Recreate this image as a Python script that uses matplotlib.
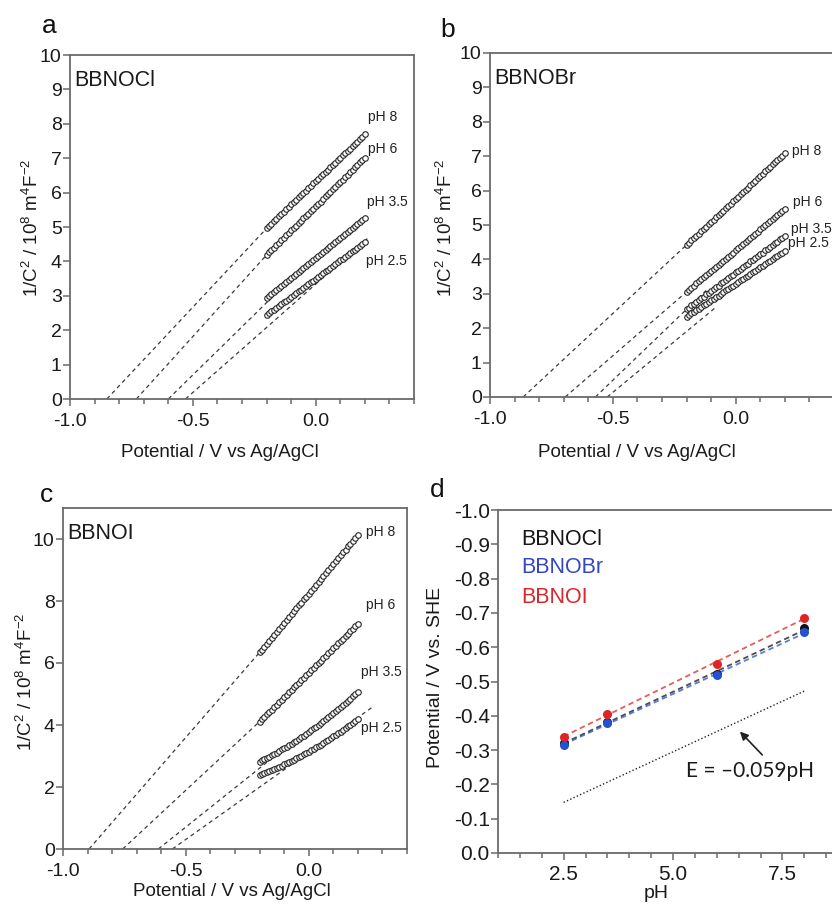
import numpy as np
import matplotlib
matplotlib.use('Agg')
import matplotlib.pyplot as plt
from matplotlib.ticker import MultipleLocator

plt.rcParams['font.family'] = ['Liberation Sans', 'DejaVu Sans']
plt.rcParams['mathtext.fontset'] = 'custom'
plt.rcParams['mathtext.rm'] = 'Liberation Sans'
plt.rcParams['mathtext.it'] = 'Liberation Sans:italic'
plt.rcParams['axes.unicode_minus'] = False

W, H = 832, 909

# Mott-Schottky data, potential sweep -0.2 .. 0.2 V vs Ag/AgCl
ph_labels = ['pH 8', 'pH 6', 'pH 3.5', 'pH 2.5']

# panel a, BBNOCl
cl_ph8 = [4.96, 5.03, 5.10, 5.17, 5.24, 5.31, 5.38, 5.45, 5.52, 5.59, 5.66, 5.72, 5.79, 5.86,
          5.93, 6.00, 6.06, 6.13, 6.20, 6.27, 6.33, 6.40, 6.47, 6.54, 6.60, 6.67, 6.74, 6.81,
          6.87, 6.94, 7.01, 7.08, 7.14, 7.21, 7.28, 7.35, 7.41, 7.48, 7.55, 7.62, 7.70]
cl_ph6 = [4.19, 4.26, 4.33, 4.40, 4.47, 4.54, 4.61, 4.68, 4.76, 4.83, 4.90, 4.97, 5.04, 5.11,
          5.18, 5.25, 5.32, 5.39, 5.46, 5.53, 5.60, 5.67, 5.74, 5.82, 5.89, 5.96, 6.03, 6.10,
          6.17, 6.24, 6.31, 6.38, 6.45, 6.52, 6.59, 6.66, 6.74, 6.81, 6.88, 6.95, 7.02]
cl_ph35 = [2.93, 2.99, 3.05, 3.11, 3.16, 3.22, 3.28, 3.34, 3.40, 3.46, 3.52, 3.57, 3.63, 3.69,
           3.75, 3.81, 3.87, 3.93, 3.98, 4.04, 4.10, 4.16, 4.22, 4.28, 4.33, 4.39, 4.45, 4.51,
           4.57, 4.63, 4.68, 4.74, 4.80, 4.86, 4.92, 4.98, 5.04, 5.09, 5.15, 5.21, 5.27]
cl_ph25 = [2.44, 2.49, 2.55, 2.60, 2.65, 2.70, 2.76, 2.81, 2.86, 2.92, 2.97, 3.02, 3.07, 3.13,
           3.18, 3.23, 3.29, 3.34, 3.39, 3.44, 3.50, 3.55, 3.60, 3.66, 3.71, 3.76, 3.81, 3.87,
           3.92, 3.97, 4.03, 4.08, 4.13, 4.18, 4.24, 4.29, 4.34, 4.40, 4.45, 4.50, 4.55]
# flat-band potential, fit slope, end of dashed fit line
cl_fb = [-0.85, -0.73, -0.60, -0.53]
cl_slope = [7.63, 7.90, 7.00, 6.30]
cl_fit_end = [-0.20, -0.20, -0.13, 0.21]
cl_label_pos = [(0.213, 8.2), (0.213, 7.27), (0.21, 5.73), (0.205, 4.01)]

# panel b, BBNOBr
br_ph8 = [4.42, 4.49, 4.55, 4.62, 4.69, 4.75, 4.82, 4.89, 4.95, 5.02, 5.09, 5.15, 5.22, 5.29,
          5.36, 5.42, 5.49, 5.56, 5.62, 5.69, 5.76, 5.82, 5.89, 5.96, 6.02, 6.09, 6.16, 6.22,
          6.29, 6.36, 6.42, 6.49, 6.56, 6.62, 6.69, 6.76, 6.82, 6.89, 6.96, 7.02, 7.09]
br_ph6 = [3.06, 3.12, 3.18, 3.24, 3.30, 3.36, 3.42, 3.48, 3.54, 3.60, 3.66, 3.72, 3.78, 3.84,
          3.90, 3.96, 4.02, 4.08, 4.14, 4.20, 4.27, 4.33, 4.39, 4.45, 4.51, 4.57, 4.63, 4.69,
          4.75, 4.81, 4.87, 4.93, 4.99, 5.05, 5.11, 5.17, 5.23, 5.29, 5.35, 5.41, 5.47]
br_ph35 = [2.55, 2.60, 2.66, 2.71, 2.76, 2.82, 2.87, 2.92, 2.98, 3.03, 3.08, 3.14, 3.19, 3.24,
           3.30, 3.35, 3.40, 3.46, 3.51, 3.56, 3.62, 3.67, 3.72, 3.78, 3.83, 3.88, 3.94, 3.99,
           4.04, 4.10, 4.15, 4.20, 4.26, 4.31, 4.36, 4.42, 4.47, 4.52, 4.58, 4.63, 4.68]
br_ph25 = [2.33, 2.38, 2.43, 2.47, 2.52, 2.57, 2.62, 2.67, 2.71, 2.76, 2.81, 2.86, 2.91, 2.95,
           3.00, 3.05, 3.10, 3.15, 3.19, 3.24, 3.29, 3.34, 3.39, 3.43, 3.48, 3.53, 3.58, 3.63,
           3.67, 3.72, 3.77, 3.82, 3.87, 3.91, 3.96, 4.01, 4.06, 4.11, 4.15, 4.20, 4.25]
br_fb = [-0.865, -0.694, -0.571, -0.523]
br_slope = [6.65, 6.19, 6.87, 5.90]
br_fit_end = [-0.20, -0.20, -0.12, -0.08]
br_label_pos = [(0.228, 7.14), (0.235, 5.68), (0.225, 4.88), (0.212, 4.49)]

# panel c, BBNOI
i_ph8 = [6.34, 6.43, 6.53, 6.62, 6.72, 6.81, 6.91, 7.00, 7.10, 7.19, 7.29, 7.38, 7.48, 7.57,
         7.67, 7.76, 7.86, 7.95, 8.05, 8.14, 8.24, 8.33, 8.43, 8.52, 8.62, 8.71, 8.81, 8.90,
         9.00, 9.09, 9.19, 9.28, 9.38, 9.47, 9.57, 9.66, 9.76, 9.85, 9.95, 10.04, 10.13]
i_ph6 = [4.11, 4.19, 4.27, 4.35, 4.43, 4.50, 4.58, 4.66, 4.74, 4.82, 4.90, 4.98, 5.06, 5.14,
         5.21, 5.29, 5.37, 5.45, 5.53, 5.61, 5.69, 5.77, 5.84, 5.92, 6.00, 6.08, 6.16, 6.24,
         6.32, 6.40, 6.48, 6.55, 6.63, 6.71, 6.79, 6.87, 6.95, 7.03, 7.11, 7.18, 7.26]
i_ph35 = [2.82, 2.86, 2.90, 2.94, 2.98, 3.03, 3.07, 3.11, 3.16, 3.21, 3.25, 3.30, 3.35, 3.40,
          3.45, 3.50, 3.55, 3.61, 3.66, 3.72, 3.77, 3.83, 3.89, 3.94, 4.00, 4.06, 4.13, 4.19,
          4.25, 4.31, 4.38, 4.44, 4.51, 4.58, 4.64, 4.71, 4.78, 4.85, 4.92, 5.00, 5.07]
i_ph25 = [2.39, 2.42, 2.45, 2.48, 2.52, 2.55, 2.58, 2.62, 2.65, 2.69, 2.73, 2.77, 2.80, 2.84,
          2.88, 2.92, 2.97, 3.01, 3.05, 3.10, 3.14, 3.19, 3.23, 3.28, 3.33, 3.37, 3.42, 3.47,
          3.52, 3.58, 3.63, 3.68, 3.73, 3.79, 3.84, 3.90, 3.96, 4.01, 4.07, 4.13, 4.19]
i_fb = [-0.894, -0.757, -0.612, -0.555]
i_slope = [9.14, 7.38, 6.33, 5.62]
i_fit_end = [-0.20, -0.20, -0.15, 0.255]
i_label_pos = [(0.233, 10.24), (0.233, 7.87), (0.212, 5.72), (0.212, 3.9)]

# panel d, flat-band potentials vs SHE
ph_values = [2.5, 3.5, 6.0, 8.0]
efb_cl = [-0.322, -0.381, -0.522, -0.655]
efb_br = [-0.316, -0.378, -0.518, -0.643]
efb_i = [-0.339, -0.406, -0.552, -0.686]
nernst_slope = -0.059


def fig_box(l, t, r, b):
    return [l / W, 1 - b / H, (r - l) / W, (b - t) / H]


def fig_pt(x, y):
    return x / W, 1 - y / H


def style_axes(ax):
    for s in ax.spines.values():
        s.set_color('#6a6a6a')
        s.set_linewidth(1.3)
    ax.tick_params(which='both', direction='out', color='#6a6a6a', width=1.1,
                   labelsize=14, labelcolor='#1a1a1a', top=False, right=False)
    ax.tick_params(which='major', length=5)
    ax.tick_params(which='minor', length=3.5)


def ms_panel(ax, series, fb, slope, fit_end, label_pos, name, ymax, ystep):
    for y, f, s, xe, lp, lab in zip(series, fb, slope, fit_end, label_pos, ph_labels):
        x = np.linspace(-0.2, 0.2, len(y))
        xf = np.array([f, xe])
        ax.plot(xf, s * (xf - f), ls=(0, (3.2, 2.8)), color='#3a3a3a', lw=0.9)
        ax.plot(x, y, 'o', mfc='white', mec='#262626', mew=0.8, ms=4.0)
        ax.text(lp[0], lp[1], lab, fontsize=10, color='#222222', va='center', ha='left')
    ax.set_xlim(-1.0, 0.4)
    ax.set_ylim(0, ymax)
    ax.xaxis.set_major_locator(MultipleLocator(0.5))
    ax.xaxis.set_minor_locator(MultipleLocator(0.1))
    ax.yaxis.set_major_locator(MultipleLocator(ystep))
    ax.set_xticks([-1.0, -0.5, 0.0])
    ax.set_xticklabels(['-1.0', '-0.5', '0.0'])
    style_axes(ax)
    ax.tick_params(axis='y', pad=1)
    ax.tick_params(axis='x', pad=5)
    ax.text(0.012, 0.925, name, transform=ax.transAxes, fontsize=15.5, va='center',
            ha='left', color='#1a1a1a')


fig = plt.figure(figsize=(W / 100, H / 100), dpi=100)

ax_a = fig.add_axes(fig_box(70, 55, 414, 399))
ms_panel(ax_a, [cl_ph8, cl_ph6, cl_ph35, cl_ph25], cl_fb, cl_slope, cl_fit_end,
         cl_label_pos, 'BBNOCl', 10, 1)

ax_b = fig.add_axes(fig_box(490, 53, 834, 397))
ms_panel(ax_b, [br_ph8, br_ph6, br_ph35, br_ph25], br_fb, br_slope, br_fit_end,
         br_label_pos, 'BBNOBr', 10, 1)

ax_c = fig.add_axes(fig_box(63, 508, 407, 849))
ms_panel(ax_c, [i_ph8, i_ph6, i_ph35, i_ph25], i_fb, i_slope, i_fit_end,
         i_label_pos, 'BBNOI', 11, 2)

# panel d
ax_d = fig.add_axes(fig_box(498, 510, 848, 853))
ph = np.array(ph_values)
colors = ['#111111', '#2450d2', '#e02424']
for vals, c in zip([efb_cl, efb_br, efb_i], colors):
    k, b0 = np.polyfit(ph, vals, 1)
    xf = np.array([ph.min(), ph.max()])
    ax_d.plot(xf, k * xf + b0, ls=(0, (3, 2)), color=c, lw=1.3, alpha=0.75)
for vals, c in zip([efb_cl, efb_br, efb_i], colors):
    ax_d.plot(ph, vals, 'o', color=c, ms=6.5, mec='none')
xn = np.array([ph.min(), ph.max()])
ax_d.plot(xn, nernst_slope * xn, ls=(0, (1, 1.6)), color='#222222', lw=1.0)
ax_d.annotate('', xy=(6.53, -0.354), xytext=(7.04, -0.286),
              arrowprops=dict(arrowstyle='-|>', color='#222222', lw=1.2,
                              mutation_scale=12, shrinkA=0, shrinkB=0))
ax_d.text(6.77, -0.238, 'E = \u20130.059pH', fontsize=15, ha='center', va='center',
          color='#1a1a1a', family=['Lato', 'DejaVu Sans'])
ax_d.set_xlim(1, 9)
ax_d.set_ylim(0, -1.0)
ax_d.xaxis.set_major_locator(MultipleLocator(2.5))
ax_d.xaxis.set_minor_locator(MultipleLocator(0.5))
ax_d.set_xticks([2.5, 5.0, 7.5])
ax_d.yaxis.set_major_locator(MultipleLocator(0.1))
ax_d.yaxis.set_major_formatter(plt.FuncFormatter(lambda v, p: '%.1f' % v if abs(v) > 1e-9 else '0.0'))
style_axes(ax_d)
ax_d.tick_params(labelsize=15)
ax_d.tick_params(axis='y', pad=1)
ax_d.tick_params(axis='x', pad=4)
for name, c, yy in zip(['BBNOCl', 'BBNOBr', 'BBNOI'], ['#161616', '#3447c0', '#d8282c'],
                       [0.913, 0.831, 0.746]):
    ax_d.text(0.067, yy, name, transform=ax_d.transAxes, fontsize=15.5, color=c,
              va='center', ha='left')

# axis labels
ylab = r'1/C$^2$ / 10$^8$ m$^4$F$^{-2}$'
xlab = 'Potential / V vs Ag/AgCl'
for (x, y) in [(220, 453), (637, 453), (232, 891)]:
    fig.text(*fig_pt(x, y), xlab, fontsize=13.5, ha='center', va='center', color='#1a1a1a')
for (x, y) in [(32, 228), (446, 228), (26, 682)]:
    fig.text(*fig_pt(x, y), ylab, fontsize=13.5, ha='center', va='center', rotation=90,
             color='#1a1a1a')
fig.text(*fig_pt(436, 677), 'Potential / V vs. SHE', fontsize=14, ha='center', va='center',
         rotation=90, color='#1a1a1a')
fig.text(*fig_pt(656, 893), 'pH', fontsize=14, ha='center', va='center', color='#1a1a1a')

# panel letters
for letter, (x, y) in zip('abcd', [(42, 33), (440, 37), (40, 502), (430, 497)]):
    fig.text(*fig_pt(x, y), letter, fontsize=19, ha='left', va='baseline', color='#111111')

fig.savefig('out.png', dpi=100, facecolor='white')
